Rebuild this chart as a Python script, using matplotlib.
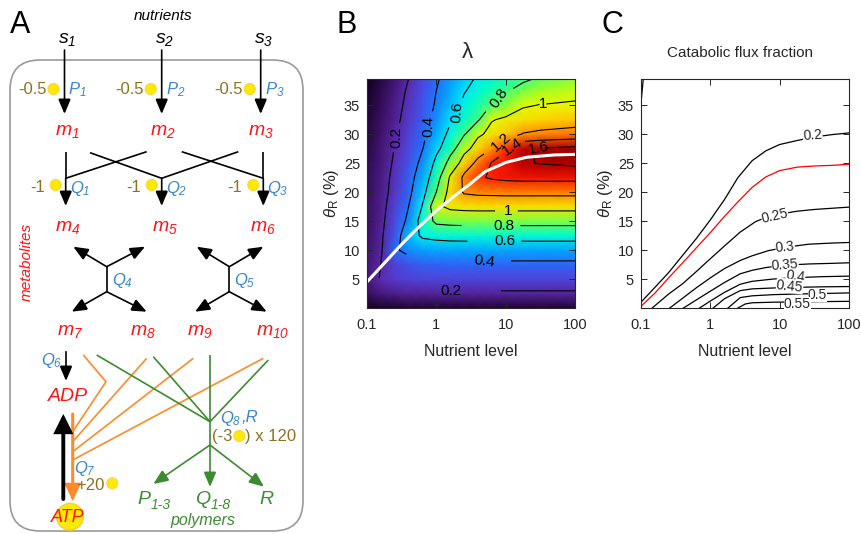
import numpy as np
import matplotlib
matplotlib.use('Agg')
import matplotlib.pyplot as plt
from matplotlib.colors import LinearSegmentedColormap
from matplotlib.patches import FancyArrowPatch, FancyBboxPatch, Circle

plt.rcParams['font.family'] = ['Liberation Sans', 'DejaVu Sans']
plt.rcParams['mathtext.fontset'] = 'custom'
plt.rcParams['mathtext.rm'] = 'Liberation Sans:italic'
plt.rcParams['mathtext.it'] = 'Liberation Sans:italic'
plt.rcParams['mathtext.sf'] = 'Liberation Sans'
plt.rcParams['mathtext.bf'] = 'Liberation Sans:bold'

# ---- panel B data: growth rate lambda, rows = theta_R (%), cols = nutrient level
nutrient = [0.1, 0.158, 0.251, 0.398, 0.631, 1.0, 1.585, 2.512, 3.981, 6.31, 10.0, 17.78, 31.62, 100.0]
theta = [0, 2.5, 5, 7.5, 10, 12.5, 15, 17.5, 20, 22.5, 25, 27.5, 30, 32.5, 35, 37.5, 40]
lam = [
    [0.05, 0.06, 0.065, 0.068, 0.07, 0.07, 0.07, 0.07, 0.07, 0.07, 0.07, 0.07, 0.07, 0.07],
    [0.10, 0.14, 0.165, 0.175, 0.178, 0.18, 0.18, 0.18, 0.18, 0.18, 0.18, 0.18, 0.18, 0.18],
    [0.14, 0.21, 0.26, 0.28, 0.29, 0.29, 0.29, 0.29, 0.29, 0.29, 0.29, 0.29, 0.29, 0.29],
    [0.13, 0.20, 0.28, 0.33, 0.355, 0.365, 0.37, 0.37, 0.37, 0.37, 0.37, 0.37, 0.37, 0.37],
    [0.12, 0.185, 0.38, 0.45, 0.475, 0.485, 0.49, 0.49, 0.49, 0.49, 0.49, 0.49, 0.49, 0.49],
    [0.11, 0.18, 0.33, 0.52, 0.63, 0.655, 0.665, 0.67, 0.67, 0.67, 0.67, 0.67, 0.67, 0.67],
    [0.105, 0.17, 0.30, 0.44, 0.70, 0.84, 0.855, 0.86, 0.86, 0.86, 0.86, 0.86, 0.86, 0.86],
    [0.10, 0.16, 0.28, 0.40, 0.61, 0.97, 1.04, 1.055, 1.06, 1.06, 1.06, 1.06, 1.06, 1.06],
    [0.097, 0.153, 0.25, 0.365, 0.55, 0.80, 1.08, 1.22, 1.24, 1.245, 1.25, 1.25, 1.25, 1.25],
    [0.094, 0.148, 0.238, 0.346, 0.497, 0.732, 1.025, 1.24, 1.38, 1.42, 1.44, 1.45, 1.45, 1.45],
    [0.087, 0.138, 0.22, 0.32, 0.446, 0.65, 0.87, 1.09, 1.257, 1.413, 1.45, 1.585, 1.61, 1.64],
    [0.081, 0.129, 0.205, 0.30, 0.395, 0.558, 0.73, 0.94, 1.09, 1.217, 1.39, 1.58, 1.615, 1.65],
    [0.074, 0.118, 0.187, 0.279, 0.372, 0.504, 0.648, 0.786, 0.97, 1.055, 1.12, 1.21, 1.24, 1.27],
    [0.068, 0.107, 0.17, 0.257, 0.345, 0.449, 0.58, 0.683, 0.78, 0.99, 1.03, 1.06, 1.09, 1.12],
    [0.062, 0.098, 0.155, 0.24, 0.327, 0.419, 0.529, 0.633, 0.726, 0.814, 0.87, 0.985, 1.005, 1.02],
    [0.056, 0.089, 0.142, 0.222, 0.311, 0.40, 0.495, 0.59, 0.66, 0.725, 0.79, 0.86, 0.91, 0.95],
    [0.049, 0.078, 0.123, 0.195, 0.288, 0.381, 0.464, 0.544, 0.613, 0.655, 0.70, 0.75, 0.80, 0.87],
]
lam_levels = [0.2, 0.4, 0.6, 0.8, 1.0, 1.2, 1.4, 1.6]

# optimal theta_R (white line)
opt_x = [0.1, 0.2, 0.3, 0.5, 1, 2, 3, 5, 10, 20, 50, 100]
opt_y = [4.5, 8.4, 10.7, 13.4, 16.8, 19.7, 21.3, 23.5, 25.1, 26.0, 26.4, 26.5]

# ---- panel C data: catabolic flux fraction contour lines
cat_curves = {
    '0.15': ([0.1, 0.104, 0.108], [35.4, 37.5, 39.6]),
    '0.2': ([0.1, 0.16, 0.25, 0.4, 0.63, 1, 1.6, 2.5, 4, 6.3, 10, 18, 32, 56, 100],
            [1.0, 3.6, 6.1, 9.1, 12.0, 15.2, 18.7, 22.5, 25.4, 27.1, 28.2, 28.9, 29.5, 29.9, 30.2]),
    '0.25': ([0.145, 0.25, 0.4, 0.63, 1, 1.6, 2.7, 4.5, 6.3, 10, 18, 32, 56, 100],
             [0.0, 2.4, 4.2, 6.3, 8.5, 10.7, 13.1, 14.9, 15.6, 16.2, 16.7, 17.0, 17.2, 17.4]),
    '0.3': ([0.26, 0.4, 0.63, 1, 1.6, 2.7, 4, 6.9, 12.6, 26, 56, 100],
            [0.0, 1.7, 3.5, 5.2, 6.8, 8.2, 9.0, 9.9, 10.5, 11.0, 11.2, 11.3]),
    '0.35': ([0.41, 0.63, 1, 1.6, 2.7, 4, 6.5, 12.6, 27, 56, 100],
             [0.0, 1.4, 2.9, 4.4, 5.9, 6.5, 7.0, 7.4, 7.6, 7.7, 7.8]),
    '0.4': ([0.7, 1, 1.6, 2.7, 4, 8.1, 18.6, 40, 100],
            [0.0, 1.2, 2.7, 4.1, 4.6, 5.0, 5.25, 5.4, 5.5]),
    '0.45': ([1.1, 1.6, 2.7, 4, 8, 16, 40, 100],
             [0.0, 1.6, 3.0, 3.3, 3.45, 3.55, 3.65, 3.7]),
    '0.5': ([1.8, 2.7, 4, 8, 16, 40, 100],
            [0.0, 1.8, 2.1, 2.3, 2.4, 2.5, 2.6]),
    '0.55': ([2.5, 3.2, 4, 8, 16, 40, 100],
             [0.0, 0.7, 0.9, 1.0, 1.05, 1.1, 1.15]),
}
opt_cat_x = [0.1, 0.16, 0.25, 0.4, 0.63, 1, 1.6, 2.5, 4, 6.3, 10, 18, 32, 56, 100]
opt_cat_y = [0.3, 2.6, 5.2, 7.8, 10.4, 13.0, 15.8, 18.3, 20.8, 22.6, 23.7, 24.3, 24.5, 24.6, 24.8]

RED = '#ff1414'
BLUE = '#3a86c8'
BROWN = '#8e7022'
GREEN = '#3d8b30'
ORANGE = '#ff8a2a'
YELLOW = '#ffea00'

fig = plt.figure(figsize=(8.62, 5.34), dpi=100)

# ================= panel A: diagram drawn in pixel coordinates
axA = fig.add_axes([0, 0, 1, 1])
axA.set_xlim(0, 862)
axA.set_ylim(534, 0)
axA.axis('off')


def arrow(p0, p1, color='k', lw=1.2, hl=0.9, hw=0.38):
    axA.add_patch(FancyArrowPatch(p0, p1, arrowstyle=f'-|>,head_length={hl},head_width={hw}',
                                  mutation_scale=10, color=color, lw=lw,
                                  shrinkA=0, shrinkB=0, joinstyle='miter'))


def line(pts, color='k', lw=1.2):
    xs, ys = zip(*pts)
    axA.plot(xs, ys, color=color, lw=lw, solid_capstyle='butt')


def dot(x, y, r=5.5):
    axA.add_patch(Circle((x, y), r, facecolor=YELLOW, edgecolor='#ffd23a', lw=0.8))


def txt(x, y, s, color='k', size=12, ha='center', style='normal', **kw):
    axA.text(x, y, s, color=color, fontsize=size, ha=ha, va='center', style=style, **kw)


def sub(name, idx):
    return r'$%s_{%s}$' % (name, idx)


axA.add_patch(FancyBboxPatch((10, 60), 293, 471, boxstyle='round,pad=0,rounding_size=30',
                             facecolor='none', edgecolor='#9a9a9a', lw=1.2))

txt(20, 25, 'A', size=22)
txt(347, 25, 'B', size=22)
txt(612, 25, 'C', size=22)
txt(163, 16, 'nutrients', size=11, style='italic')

cols = [64.5, 161.7, 260.7]
for i, x in enumerate(cols):
    txt(x + 3, 40, sub('s', i + 1), size=14)
    arrow((x, 50), (x, 114))
    txt(x - 18, 90, '-0.5', color=BROWN, size=12, ha='right')
    dot(x - 11, 89)
    txt(x + 4, 90, sub('P', i + 1), color=BLUE, size=12, ha='left')

for i, x in enumerate([67, 163, 261]):
    txt(x, 132, sub('m', i + 1), color=RED, size=14)

# crossing lines between m1..m3 and Q1..Q3
qx = [65.7, 161.7, 263.3]
line([(65.7, 151.7), (65.7, 178.3)])
line([(263.3, 151.7), (263.3, 178.3)])
line([(90, 152.7), (161.7, 178.3)])
line([(146.7, 151.7), (65.7, 178.3)])
line([(181.7, 151.7), (263.3, 178.3)])
line([(238.3, 151.7), (161.7, 178.3)])
for i, x in enumerate(qx):
    arrow((x, 178.3), (x, 206))
    txt(x - 21, 187, '-1', color=BROWN, size=12, ha='right')
    dot(x - 10, 185)
    txt(x + 4, 188, sub('Q', i + 1), color=BLUE, size=12, ha='left')

for i, x in enumerate([68, 165, 263]):
    txt(x, 227, sub('m', i + 4), color=RED, size=14)

txt(27, 262, 'metabolites', color=RED, size=11, style='italic', rotation=90)

for jx, qlab, ups, downs in [(106.7, 4, [73.3, 145], [71.7, 146.7]),
                             (229.3, 5, [196.7, 263.3], [195, 266.7])]:
    line([(jx, 266.7), (jx, 291.7)])
    for ux in ups:
        arrow((jx, 266.7), (ux, 246.7))
    for dx in downs:
        arrow((jx, 291.7), (dx, 311.7))
    txt(jx + 5, 281, sub('Q', qlab), color=BLUE, size=12, ha='left')

for x, lab in [(70, 7), (143.3, 8), (200, 9), (273, 10)]:
    txt(x, 331.7, sub('m', lab), color=RED, size=14)

# energy part
txt(51.7, 360, sub('Q', 6), color=BLUE, size=12)
arrow((66, 351.7), (66, 381))
txt(68.3, 396.7, 'ADP', color=RED, size=14, style='italic')

# orange lines from m7..m10 into Q7
line([(83.3, 355), (106, 381.7), (72.7, 431.7)], color=ORANGE)
line([(146.7, 358.3), (72.7, 441.7)], color=ORANGE)
line([(193.3, 358.3), (72.7, 451.7)], color=ORANGE)
line([(263.3, 358.3), (72.7, 460)], color=ORANGE)
arrow((72.7, 414), (72.7, 501), color=ORANGE, lw=2.2, hl=0.95, hw=0.45)

# green lines to polymers
gj = (210, 421.7)
for p in [(96.7, 355), (153.3, 356.7), (210, 355), (268.3, 360)]:
    line([p, gj], color=GREEN)
line([gj, (210, 445)], color=GREEN)
arrow((210, 445), (153.3, 484), color=GREEN)
arrow((210, 445), (210, 487), color=GREEN)
arrow((210, 445), (264, 486.7), color=GREEN)

txt(220, 418, r'$Q_{8}$', color=BLUE, size=12, ha='left')
txt(242, 418, ',R', color=BLUE, size=12, ha='left', style='italic')
txt(212, 437, '(-3', color=BROWN, size=12, ha='left')
dot(239.3, 436)
txt(245.5, 437, ') x 120', color=BROWN, size=12, ha='left')

txt(85, 468.3, sub('Q', 7), color=BLUE, size=12)
txt(90, 485, '+20', color=BROWN, size=12)
dot(112.3, 483.3)

axA.add_patch(Circle((70, 516.7), 13.3, facecolor=YELLOW, edgecolor='#ffc93a', lw=1))
txt(68, 518, 'ATP', color=RED, size=13, style='italic')
arrow((63.3, 499), (63.3, 414), lw=2.8, hl=1.0, hw=0.5)

# polymers with hyphenated subscripts
txt(150.5, 500, 'P', color=GREEN, size=14, style='italic', ha='right')
txt(151, 505, '1-3', color=GREEN, size=10, style='italic', ha='left')
txt(210.5, 500, 'Q', color=GREEN, size=14, style='italic', ha='right')
txt(211, 505, '1-8', color=GREEN, size=10, style='italic', ha='left')
txt(266.7, 500, 'R', color=GREEN, size=14, style='italic')
txt(203.3, 520, 'polymers', color=GREEN, size=11.5, style='italic')

# ================= colormap for lambda
cmap = LinearSegmentedColormap.from_list('lam', [
    (0.0, (0, 0, 0)), (0.03, (0.08, 0.0, 0.13)), (0.059, (0.22, 0.06, 0.38)),
    (0.118, (0.36, 0.16, 0.66)), (0.176, (0.3, 0.28, 0.88)), (0.235, (0.12, 0.45, 1.0)),
    (0.294, (0.0, 0.68, 1.0)), (0.353, (0.0, 0.92, 1.0)), (0.412, (0.0, 1.0, 0.75)),
    (0.471, (0.3, 1.0, 0.45)), (0.529, (0.6, 1.0, 0.15)), (0.588, (0.9, 0.98, 0.0)),
    (0.647, (1.0, 0.82, 0.0)), (0.706, (1.0, 0.6, 0.0)), (0.765, (1.0, 0.38, 0.0)),
    (0.824, (1.0, 0.15, 0.0)), (0.882, (0.88, 0.0, 0.0)), (0.941, (0.7, 0.0, 0.0)),
    (1.0, (0.55, 0.0, 0.0))])

TICKC = '#262626'


def style_axes(ax):
    ax.set_xscale('log')
    ax.set_xlim(0.1, 100)
    ax.set_ylim(0, 39.5)
    ax.set_xticks([0.1, 1, 10, 100])
    ax.set_xticklabels(['0.1', '1', '10', '100'])
    ax.xaxis.set_minor_locator(matplotlib.ticker.NullLocator())
    ax.set_yticks([5, 10, 15, 20, 25, 30, 35])
    ax.tick_params(direction='in', top=True, right=True, length=4, width=0.7,
                   labelsize=10.5, colors=TICKC)
    ax.tick_params(axis='x', pad=7)
    ax.tick_params(axis='y', pad=5)
    for s in ax.spines.values():
        s.set_color('#262626')
        s.set_linewidth(0.8)
    ax.set_xlabel('Nutrient level', fontsize=11.5, color=TICKC, va='center')
    ax.xaxis.set_label_coords(0.5, -0.19)
    ax.set_ylabel(r'$\theta_{\mathsf{R}}$ (%)', fontsize=12, color=TICKC, va='center')
    ax.yaxis.set_label_coords(-0.17, 0.5)


# ================= panel B
axB = fig.add_axes([367 / 862, (534 - 308) / 534, 208 / 862, 229 / 534])
X, Y = np.meshgrid(nutrient, theta)
Z = np.array(lam)
axB.pcolormesh(X, Y, Z, shading='gouraud', cmap=cmap, vmin=0, vmax=1.7, rasterized=True)
cs = axB.contour(X, Y, Z, levels=lam_levels, colors='k', linewidths=0.8)
labels = axB.clabel(cs, fmt=lambda v: f'{v:g}', fontsize=11, inline=True, inline_spacing=4,
                    manual=[(0.275, 29.4), (1.6, 2.9), (0.77, 31.4), (5.0, 8.2), (1.86, 33.7),
                            (9.8, 11.4), (7.4, 36.3), (9.3, 14.2), (34.7, 35.2), (11, 16.8),
                            (8.3, 28.8), (12.3, 28.0), (29.5, 27.4)])
for t in labels:
    if t.get_position()[1] < 5:
        t.set_rotation(0)
axB.plot(opt_x, opt_y, color='white', lw=2.2)
style_axes(axB)
fig.text(467 / 862, 1 - 53 / 534, 'λ', ha='center', va='center', fontsize=16, color=TICKC)

# ================= panel C
axC = fig.add_axes([641 / 862, (534 - 308) / 534, 208 / 862, 229 / 534])
for name, (cx, cy) in cat_curves.items():
    axC.plot(cx, cy, color='k', lw=0.9)
axC.plot(opt_cat_x, opt_cat_y, color='red', lw=0.9)
c_labels = [('0.2', 30, 29.7, 4), ('0.25', 8.5, 15.9, 13), ('0.3', 12, 10.5, 5),
            ('0.35', 12, 7.4, 4), ('0.4', 17, 5.5, -8), ('0.45', 14, 3.8, -6),
            ('0.5', 35, 2.3, 0), ('0.55', 18, 0.75, 0)]
for s, lx, ly, rot in c_labels:
    axC.text(lx, ly, s, fontsize=10, ha='center', va='center', rotation=rot, color=TICKC,
             bbox=dict(facecolor='white', edgecolor='none', pad=0.1))
style_axes(axC)
fig.text(740 / 862, 1 - 53 / 534, 'Catabolic flux fraction', ha='center', va='center',
         fontsize=11, color=TICKC)

fig.savefig('out.png', dpi=100)
